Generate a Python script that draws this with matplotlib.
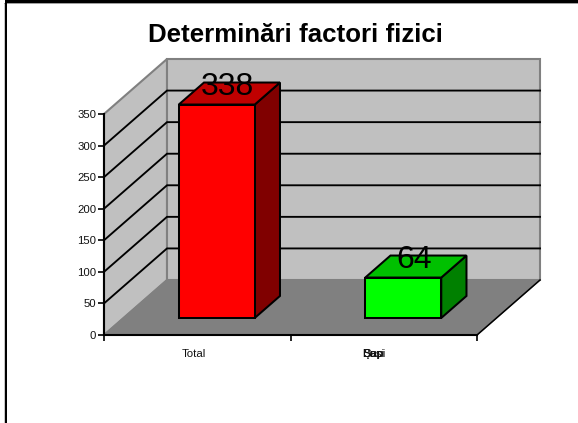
import matplotlib
matplotlib.use("Agg")
import matplotlib.pyplot as plt
from matplotlib.patches import Polygon, Rectangle

categories = ["Total", "Bapi"]
values = [338, 64]
bar_colors = ["#ff0000", "#00ff00"]
top_colors = ["#c00000", "#00c000"]
side_colors = ["#800000", "#008000"]
y_ticks = [0, 50, 100, 150, 200, 250, 300, 350]
overlap_labels = ["Dupi", "Şap", "Bași"]
title = "Determinări factori fizici"

W, H = 578, 423
Y_MAX = 350
DX = 63 / 186.5   # category units per unit of depth
DY = 55 / (221 / 350)  # value units per unit of depth
BAR_W = 76 / 186.5
D0, D1 = 0.31, 0.71


def proj(x, y, d=0.0):
    return (x + d * DX, y + d * DY)


plt.rcParams["font.family"] = "Liberation Sans"
fig = plt.figure(figsize=(W / 100, H / 100), dpi=100, facecolor="white")

# slide frame: gray hairline outside a black rule, top and left only
fig.add_artist(Rectangle((4 / W, 0), 1.2 / W, 1 - 4 / H, transform=fig.transFigure,
                         fc="#c8c8c8", ec="none", zorder=-2))
fig.add_artist(Rectangle((4 / W, 1 - 4.2 / H), 1 - 4 / W, 1.2 / H, transform=fig.transFigure,
                         fc="#a0a0a0", ec="none", zorder=-2))
fig.add_artist(Rectangle((5 / W, 0), 2 / W, 1, transform=fig.transFigure,
                         fc="black", ec="none", zorder=-1))
fig.add_artist(Rectangle((5 / W, 1 - 3 / H), 1 - 5 / W, 3 / H, transform=fig.transFigure,
                         fc="black", ec="none", zorder=-1))

ax = fig.add_axes([104 / W, 1 - 335 / H, 373 / W, 221 / H])
ax.set_xlim(0, 2)
ax.set_ylim(0, Y_MAX)
ax.patch.set_visible(False)


def poly(pts, fc, ec, lw, z):
    ax.add_patch(Polygon(pts, closed=True, fc=fc, ec=ec, lw=lw, zorder=z,
                         clip_on=False, joinstyle="miter"))


# walls and floor
poly([proj(0, 0), proj(0, Y_MAX), proj(0, Y_MAX, 1), proj(0, 0, 1)], "#c0c0c0", "#808080", 1.5, 1)
poly([proj(0, 0, 1), proj(0, Y_MAX, 1), proj(2, Y_MAX, 1), proj(2, 0, 1)], "#c0c0c0", "#808080", 1.5, 1)
poly([proj(0, 0), proj(2, 0), proj(2, 0, 1), proj(0, 0, 1)], "#808080", "#808080", 1.0, 2)
ax.plot(*zip(proj(2, 0), proj(2, 0, 1)), color="black", lw=1.1, zorder=3, clip_on=False)

# gridlines
for t in y_ticks[1:-1]:
    ax.plot(*zip(proj(0, t), proj(0, t, 1), proj(2, t, 1)), color="black", lw=1.35,
            zorder=2.5, clip_on=False, solid_joinstyle="miter")

# bars
for i, (v, c, tc, sc) in enumerate(zip(values, bar_colors, top_colors, side_colors)):
    x0 = i + 0.5 - BAR_W / 2
    x1 = i + 0.5 + BAR_W / 2
    poly([proj(x1, 0, D0), proj(x1, v, D0), proj(x1, v, D1), proj(x1, 0, D1)], sc, "black", 1.45, 4)
    poly([proj(x0, v, D0), proj(x1, v, D0), proj(x1, v, D1), proj(x0, v, D1)], tc, "black", 1.45, 4)
    poly([proj(x0, 0, D0), proj(x1, 0, D0), proj(x1, v, D0), proj(x0, v, D0)], c, "black", 1.45, 5)
    lx, ly = proj(i + 0.5, v, 0.48)
    ax.text(lx, ly, str(v), fontsize=23, ha="center", va="baseline", color="black",
            zorder=6, clip_on=False)

# axes
for s in ("top", "right"):
    ax.spines[s].set_visible(False)
for s in ("left", "bottom"):
    ax.spines[s].set_linewidth(1.5)
    ax.spines[s].set_zorder(7)
ax.set_yticks(y_ticks)
ax.set_yticklabels([str(t) for t in y_ticks], fontsize=8.2, color="#111111")
ax.tick_params(axis="y", length=4, width=1.2, pad=1.5)
ax.set_xticks([0, 1, 2])
ax.set_xticklabels([])
ax.tick_params(axis="x", length=4, width=1.2)

ax.annotate(categories[0], xy=(0.48, 0), xycoords=ax.get_xaxis_transform(), xytext=(0, -14),
            textcoords="offset points", ha="center", va="center", fontsize=8.2, color="#111111")
for lab in overlap_labels:
    ax.annotate(lab, xy=(1.445, 0), xycoords=ax.get_xaxis_transform(), xytext=(0, -14),
                textcoords="offset points", ha="center", va="center", fontsize=8.2, color="#111111")

fig.text(295 / W, 1 - 42 / H, title, fontsize=18.6, fontweight="bold", ha="center",
         va="baseline", color="black")

fig.savefig("out.png", dpi=100, facecolor="white")
